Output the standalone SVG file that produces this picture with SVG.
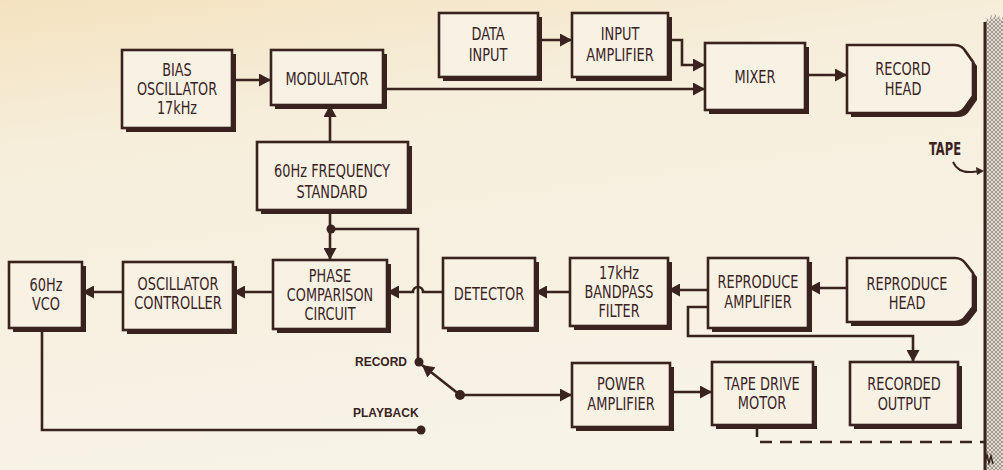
<svg xmlns="http://www.w3.org/2000/svg" width="1003" height="470" viewBox="0 0 1003 470">
<defs>
<linearGradient id="bg" x1="0" y1="0" x2="0.3" y2="1">
<stop offset="0" stop-color="#f4e2bf"/>
<stop offset="0.3" stop-color="#f6eedb"/>
<stop offset="1" stop-color="#f7f3e7"/>
</linearGradient>
<pattern id="hatch" width="4" height="4" patternUnits="userSpaceOnUse">
<rect width="4" height="4" fill="#e2dcd2"/>
<path d="M0,4 L4,0 M0,0 L4,4" stroke="#857b74" stroke-width="0.7"/>
</pattern>
<marker id="ah" markerUnits="userSpaceOnUse" markerWidth="13" markerHeight="13" refX="12" refY="6.5" orient="auto">
<path d="M0,0 L12,6.5 L0,13 Z" fill="#3a231f"/>
</marker>
<style>
.bx{fill:#f7f2e4;stroke:#3a231f;stroke-width:2.6}
.sh{fill:#3a231f}
.t{font-family:"DejaVu Sans Condensed","Liberation Sans Narrow","Liberation Sans",sans-serif;font-size:18px;fill:#3a231f;text-anchor:middle}
.s{font-size:17px}
.lb{font-family:"Liberation Sans",Arial,sans-serif;font-weight:bold;font-size:12px;fill:#3a231f}
.ln{fill:none;stroke:#3a231f;stroke-width:2.6}
.ar{marker-end:url(#ah)}
.dot{fill:#3a231f}
</style>
</defs>
<rect width="1003" height="470" fill="url(#bg)"/>

<g id="tape">
<path d="M985,470 V24 L987,17 L989,22 L991,14 L993,20 L995,13 L997,19 L999,15 L1001,21 L1003,16 V470 Z" fill="url(#hatch)"/>
<path d="M985,470 V22" stroke="#3a231f" stroke-width="3"/>
<path d="M985,462 L987,455 L989,463 L991,456 L993,464" fill="none" stroke="#3a231f" stroke-width="1.5"/>
<text class="t" transform="translate(945,155) scale(0.75,1)" style="font-size:17px;font-weight:bold">TAPE</text>
<path d="M953,162 Q958,173 972,172 L982,171" fill="none" stroke="#3a231f" stroke-width="2"/>
<path d="M984,171 L976,167 L977,175 Z" fill="#3a231f"/>
</g>

<g id="bias">
<rect class="sh" x="126" y="54" width="110" height="78"/>
<rect class="bx" x="122" y="50" width="110" height="78"/>
<text class="t s" transform="translate(177,76) scale(0.84,1)">BIAS</text>
<text class="t s" transform="translate(177,95) scale(0.84,1)">OSCILLATOR</text>
<text class="t s" transform="translate(177,114) scale(0.84,1)">17kHz</text>
</g>
<g id="modulator">
<rect class="sh" x="275" y="54" width="112" height="55"/>
<rect class="bx" x="271" y="50" width="112" height="55"/>
<text class="t" transform="translate(327,85) scale(0.8,1)">MODULATOR</text>
</g>
<g id="datainput">
<rect class="sh" x="443" y="17" width="99" height="64"/>
<rect class="bx" x="439" y="13" width="99" height="64"/>
<text class="t" transform="translate(488,40) scale(0.8,1)">DATA</text>
<text class="t" transform="translate(488,61) scale(0.8,1)">INPUT</text>
</g>
<g id="inputamp">
<rect class="sh" x="576" y="17" width="96" height="64"/>
<rect class="bx" x="572" y="13" width="96" height="64"/>
<text class="t" transform="translate(620,40) scale(0.8,1)">INPUT</text>
<text class="t" transform="translate(620,61) scale(0.8,1)">AMPLIFIER</text>
</g>
<g id="mixer">
<rect class="sh" x="709" y="47" width="100" height="67"/>
<rect class="bx" x="705" y="43" width="100" height="67"/>
<text class="t" transform="translate(755,83) scale(0.8,1)">MIXER</text>
</g>
<g id="recordhead">
<path class="sh" d="M851,49 H959 Q966,49 970,56 L977,66 V100 L970,110 Q966,117 959,117 H851 Z"/>
<path class="bx" d="M847,45 H955 Q962,45 966,52 L973,62 V96 L966,106 Q962,113 955,113 H847 Z"/>
<text class="t" transform="translate(903,75) scale(0.8,1)">RECORD</text>
<text class="t" transform="translate(903,95) scale(0.8,1)">HEAD</text>
</g>
<g id="freqstd">
<rect class="sh" x="261" y="146" width="151" height="68"/>
<rect class="bx" x="257" y="142" width="151" height="68"/>
<text class="t" transform="translate(332,177) scale(0.8,1)">60Hz FREQUENCY</text>
<text class="t" transform="translate(332,198) scale(0.8,1)">STANDARD</text>
</g>
<g id="vco">
<rect class="sh" x="13" y="266" width="73" height="66"/>
<rect class="bx" x="9" y="262" width="73" height="66"/>
<text class="t" transform="translate(46,291) scale(0.8,1)">60Hz</text>
<text class="t" transform="translate(46,310) scale(0.8,1)">VCO</text>
</g>
<g id="oscctl">
<rect class="sh" x="127" y="266" width="110" height="68"/>
<rect class="bx" x="123" y="262" width="110" height="68"/>
<text class="t" transform="translate(178,290) scale(0.8,1)">OSCILLATOR</text>
<text class="t" transform="translate(178,309) scale(0.8,1)">CONTROLLER</text>
</g>
<g id="phasecomp">
<rect class="sh" x="277" y="264" width="114" height="69"/>
<rect class="bx" x="273" y="260" width="114" height="69"/>
<text class="t s" transform="translate(330,282) scale(0.84,1)">PHASE</text>
<text class="t s" transform="translate(330,301) scale(0.84,1)">COMPARISON</text>
<text class="t s" transform="translate(330,320) scale(0.84,1)">CIRCUIT</text>
</g>
<g id="detector">
<rect class="sh" x="447" y="262" width="92" height="70"/>
<rect class="bx" x="443" y="258" width="92" height="70"/>
<text class="t" transform="translate(489,300) scale(0.8,1)">DETECTOR</text>
</g>
<g id="bandpass">
<rect class="sh" x="574" y="262" width="98" height="68"/>
<rect class="bx" x="570" y="258" width="98" height="68"/>
<text class="t s" transform="translate(619,279) scale(0.84,1)">17kHz</text>
<text class="t s" transform="translate(619,298) scale(0.84,1)">BANDPASS</text>
<text class="t s" transform="translate(619,317) scale(0.84,1)">FILTER</text>
</g>
<g id="repamp">
<rect class="sh" x="712" y="262" width="100" height="70"/>
<rect class="bx" x="708" y="258" width="100" height="70"/>
<text class="t" transform="translate(758,288) scale(0.8,1)">REPRODUCE</text>
<text class="t" transform="translate(758,308) scale(0.8,1)">AMPLIFIER</text>
</g>
<g id="rephead">
<path class="sh" d="M851,262 H959 Q966,262 970,268 L977,277 V311 L970,320 Q966,326 959,326 H851 Z"/>
<path class="bx" d="M847,258 H955 Q962,258 966,264 L973,273 V307 L966,316 Q962,322 955,322 H847 Z"/>
<text class="t" transform="translate(907,290) scale(0.8,1)">REPRODUCE</text>
<text class="t" transform="translate(907,309) scale(0.8,1)">HEAD</text>
</g>
<g id="poweramp">
<rect class="sh" x="576" y="367" width="98" height="64"/>
<rect class="bx" x="572" y="363" width="98" height="64"/>
<text class="t" transform="translate(621,390) scale(0.8,1)">POWER</text>
<text class="t" transform="translate(621,410) scale(0.8,1)">AMPLIFIER</text>
</g>
<g id="motor">
<rect class="sh" x="716" y="366" width="101" height="63"/>
<rect class="bx" x="712" y="362" width="101" height="63"/>
<text class="t" transform="translate(762,390) scale(0.8,1)">TAPE DRIVE</text>
<text class="t" transform="translate(762,409) scale(0.8,1)">MOTOR</text>
</g>
<g id="recout">
<rect class="sh" x="854" y="366" width="108" height="63"/>
<rect class="bx" x="850" y="362" width="108" height="63"/>
<text class="t" transform="translate(904,390) scale(0.8,1)">RECORDED</text>
<text class="t" transform="translate(904,410) scale(0.8,1)">OUTPUT</text>
</g>

<g id="connectors">
<path class="ln ar" d="M232,80 H271"/>
<path class="ln ar" d="M330,142 V105"/>
<path class="ln ar" d="M383,89 H705"/>
<path class="ln ar" d="M538,40 H572"/>
<path class="ln ar" d="M668,40 H682 V65 H705"/>
<path class="ln ar" d="M805,75 H847"/>
<path class="ln ar" d="M330,210 V260"/>
<circle class="dot" cx="331" cy="229" r="4.5"/>
<path class="ln" d="M331,229 H418 V362"/>
<circle class="dot" cx="419" cy="362" r="4.5"/>
<path class="ln ar" d="M443,292 H423 A5,5 0 0 0 413,292 H387"/>
<path class="ln ar" d="M273,292 H233"/>
<path class="ln ar" d="M123,292 H82"/>
<path class="ln" d="M42,328 V430 H420"/>
<circle class="dot" cx="421" cy="430" r="4.5"/>
<circle class="dot" cx="460" cy="395" r="5"/>
<path class="ln ar" d="M460,395 L422,365"/>
<path class="ln ar" d="M460,395 H572"/>
<path class="ln ar" d="M670,392 H712"/>
<path class="ln ar" d="M570,292 H535"/>
<path class="ln ar" d="M708,290 H668"/>
<path class="ln ar" d="M847,288 H808"/>
<path class="ln ar" d="M708,307 H688 V336 H913 V362"/>
<path class="ln" d="M757,425 V442 H985" stroke-dasharray="12,8"/>
<text class="lb" x="355" y="366">RECORD</text>
<text class="lb" x="353" y="417">PLAYBACK</text>
</g>
</svg>
